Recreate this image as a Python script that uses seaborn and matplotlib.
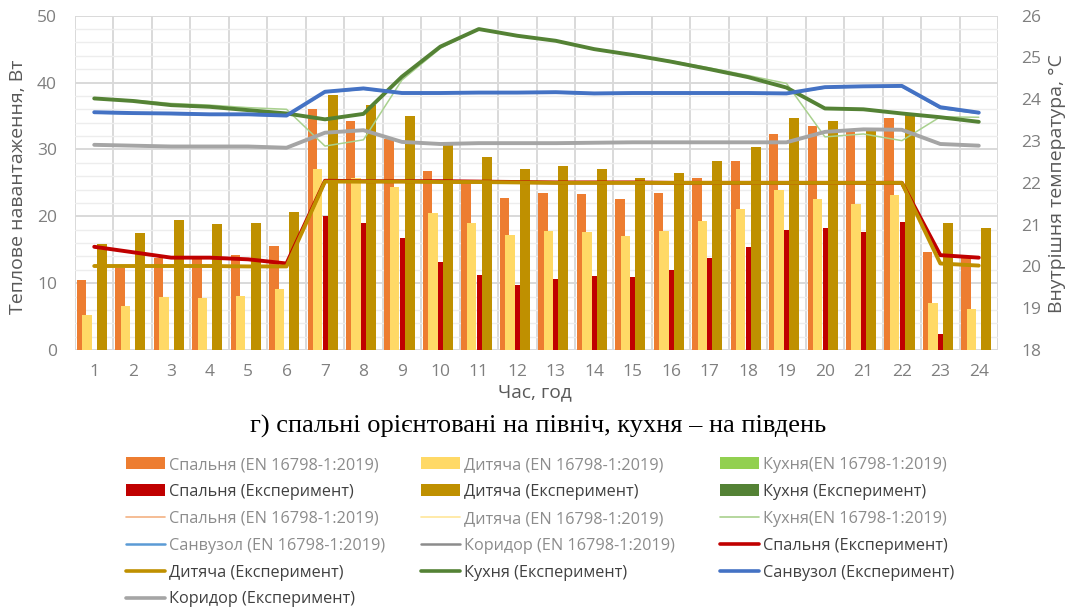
import numpy as np
import pandas as pd
import matplotlib
matplotlib.use("Agg")
import matplotlib.pyplot as plt
import matplotlib.patches as mpatches
from matplotlib.lines import Line2D
import seaborn as sns

# ---- data -------------------------------------------------------------
hours = list(range(1, 25))

# heat load, W (left axis)
bedroom_en_load = [10.5, 12.3, 13.8, 13.7, 14.2, 15.5, 36.0, 34.3, 31.5, 26.8, 25.0, 22.8,
                   23.5, 23.3, 22.6, 23.5, 25.7, 28.3, 32.3, 33.5, 32.6, 34.7, 14.7, 13.7]
child_en_load = [5.3, 6.6, 7.9, 7.8, 8.1, 9.1, 27.1, 25.8, 24.4, 20.5, 19.0, 17.2,
                 17.8, 17.6, 17.0, 17.8, 19.3, 21.1, 24.0, 22.6, 21.8, 23.2, 7.0, 6.1]
bedroom_exp_load = [0, 0, 0, 0, 0, 0, 20.1, 19.0, 16.8, 13.1, 11.2, 9.7,
                    10.6, 11.0, 10.9, 12.0, 13.8, 15.4, 17.9, 18.2, 17.6, 19.2, 2.4, 0]
child_exp_load = [15.8, 17.5, 19.4, 18.9, 19.0, 20.6, 38.1, 36.7, 35.0, 30.7, 28.9, 27.1,
                  27.5, 27.1, 25.8, 26.4, 28.3, 30.4, 34.7, 34.3, 32.7, 35.1, 19.0, 18.3]

# indoor temperature, °C (right axis)
bedroom_en_t = [20.45, 20.33, 20.21, 20.2, 20.16, 20.06, 22.04, 22.03, 22.03, 22.03, 22.02, 22.01,
                22.0, 22.0, 22.0, 22.0, 22.0, 22.0, 22.0, 22.0, 22.0, 22.0, 20.26, 20.2]
child_en_t = [20.0, 20.0, 20.0, 20.0, 20.0, 20.0, 22.02, 22.02, 22.02, 22.02, 22.01, 22.0,
              22.0, 22.0, 22.0, 22.0, 22.0, 22.0, 22.0, 22.0, 22.0, 22.0, 20.06, 20.01]
kitchen_en_t = [24.02, 23.98, 23.90, 23.86, 23.80, 23.76, 22.88, 23.03, 24.46, 25.22, 25.68, 25.52,
                25.40, 25.21, 25.07, 24.92, 24.75, 24.57, 24.38, 23.10, 23.17, 23.01, 23.58, 23.57]
bath_en_t = [23.67, 23.65, 23.64, 23.62, 23.62, 23.60, 24.16, 24.24, 24.14, 24.14, 24.15, 24.15,
             24.15, 24.12, 24.14, 24.14, 24.14, 24.14, 24.13, 24.27, 24.30, 24.30, 23.78, 23.66]
corridor_en_t = [22.90, 22.88, 22.86, 22.86, 22.86, 22.83, 23.19, 23.25, 22.97, 22.92, 22.94, 22.94,
                 22.94, 22.95, 22.96, 22.96, 22.96, 22.96, 22.96, 23.21, 23.27, 23.26, 22.92, 22.88]
bedroom_exp_t = [20.47, 20.34, 20.21, 20.21, 20.17, 20.07, 22.05, 22.04, 22.04, 22.04, 22.03, 22.02,
                 22.01, 22.01, 22.01, 22.0, 22.0, 22.0, 22.0, 22.0, 22.0, 22.0, 20.27, 20.21]
child_exp_t = [20.01, 20.01, 20.01, 20.01, 20.0, 20.0, 22.03, 22.03, 22.03, 22.02, 22.02, 22.01,
               22.0, 22.0, 22.0, 22.0, 22.0, 22.0, 22.0, 22.0, 22.0, 22.0, 20.07, 20.02]
kitchen_exp_t = [24.02, 23.96, 23.86, 23.82, 23.74, 23.66, 23.52, 23.65, 24.54, 25.26, 25.68, 25.52,
                 25.40, 25.20, 25.06, 24.90, 24.72, 24.53, 24.28, 23.78, 23.76, 23.66, 23.57, 23.46]
bath_exp_t = [23.69, 23.67, 23.66, 23.64, 23.64, 23.61, 24.18, 24.26, 24.15, 24.15, 24.16, 24.16,
              24.17, 24.14, 24.15, 24.15, 24.15, 24.15, 24.14, 24.29, 24.31, 24.32, 23.81, 23.68]
corridor_exp_t = [22.91, 22.89, 22.87, 22.87, 22.87, 22.84, 23.20, 23.26, 22.98, 22.93, 22.95, 22.95,
                  22.95, 22.96, 22.97, 22.97, 22.97, 22.97, 22.97, 23.22, 23.28, 23.27, 22.93, 22.89]

load_ticks = [0, 10, 20, 30, 40, 50]
temp_ticks = [18, 19, 20, 21, 22, 23, 24, 25, 26]

# ---- style ------------------------------------------------------------
sns.set_theme(style="white")
plt.rcParams['font.family'] = ['Open Sans', 'DejaVu Sans']

C_ORANGE = "#ED7D31"
C_YELLOW = "#FFD966"
C_LGREEN = "#92D050"
C_RED = "#C00000"
C_GOLD = "#BF9000"
C_DGREEN = "#548235"
C_BLUE = "#4472C4"
C_LBLUE = "#5B9BD5"
C_GRAY = "#A5A5A5"
TICK_C = "#7F7F7F"
LABEL_C = "#595959"

W, H = 1069, 610
fig = plt.figure(figsize=(W / 100, H / 100), dpi=100)
x0, x1, y_top, y_bot = 75, 998, 15.7, 350
ax = fig.add_axes([x0 / W, 1 - y_bot / H, (x1 - x0) / W, (y_bot - y_top) / H])
ax.set_facecolor("white")


def draw_bars(values, offset, width, color):
    df = pd.DataFrame({"hour": np.array(hours, dtype=float) + offset, "load": values})
    sns.barplot(data=df, x="hour", y="load", native_scale=True, width=width,
                color=color, saturation=1, linewidth=0, errorbar=None, ax=ax, zorder=2)


draw_bars(bedroom_en_load, -0.33, 0.245, C_ORANGE)
draw_bars(child_en_load, -0.19, 0.245, C_YELLOW)
draw_bars(bedroom_exp_load, 0.005, 0.13, C_RED)
draw_bars(child_exp_load, 0.20, 0.26, C_GOLD)

ax.set_xlim(0.5, 24.5)
ax.set_ylim(0, 50)
ax.set_xticks(hours)
ax.set_xticklabels([str(h) for h in hours])
ax.set_xticks(np.arange(0.5, 25, 1), minor=True)
ax.set_yticks(load_ticks)
ax.set_yticks(np.arange(0, 51, 2), minor=True)
ax.set_axisbelow(True)
ax.grid(axis="y", which="minor", color="#EDEDED", lw=1.0)
ax.grid(axis="y", which="major", color="#D9D9D9", lw=1.4)
ax.grid(axis="x", which="minor", color="#D9D9D9", lw=1.4)
ax.grid(axis="x", which="major", visible=False)
ax.tick_params(axis="both", which="both", length=0, labelsize=12.5, labelcolor=TICK_C)
ax.tick_params(axis="y", pad=13)
ax.tick_params(axis="x", pad=10)
ax.set_xlabel("")
ax.set_ylabel("")
for s in ax.spines.values():
    s.set_visible(False)

# ---- temperature lines -------------------------------------------------
ax2 = ax.twinx()
line_kw = dict(legend=False, solid_capstyle="round", solid_joinstyle="round")
sns.lineplot(x=hours, y=bedroom_en_t, ax=ax2, color="#F4B183", linewidth=1.0, **line_kw)
sns.lineplot(x=hours, y=child_en_t, ax=ax2, color="#FFE699", linewidth=1.0, **line_kw)
sns.lineplot(x=hours, y=kitchen_en_t, ax=ax2, color="#A9D18E", linewidth=1.1, **line_kw)
sns.lineplot(x=hours, y=bath_en_t, ax=ax2, color=C_LBLUE, linewidth=1.1, **line_kw)
sns.lineplot(x=hours, y=corridor_en_t, ax=ax2, color="#8C8C8C", linewidth=1.1, **line_kw)
sns.lineplot(x=hours, y=bedroom_exp_t, ax=ax2, color=C_RED, linewidth=2.8, **line_kw)
sns.lineplot(x=hours, y=child_exp_t, ax=ax2, color=C_GOLD, linewidth=2.8, **line_kw)
sns.lineplot(x=hours, y=kitchen_exp_t, ax=ax2, color=C_DGREEN, linewidth=2.8, **line_kw)
sns.lineplot(x=hours, y=bath_exp_t, ax=ax2, color=C_BLUE, linewidth=2.8, **line_kw)
sns.lineplot(x=hours, y=corridor_exp_t, ax=ax2, color=C_GRAY, linewidth=2.8, **line_kw)
ax2.set_ylim(18, 26)
ax2.set_yticks(temp_ticks)
ax2.set_xlim(0.5, 24.5)
ax2.tick_params(axis="y", length=0, labelsize=12.5, labelcolor=TICK_C, pad=17)
ax2.set_ylabel("")
ax2.grid(False)
for s in ax2.spines.values():
    s.set_visible(False)

# ---- labels and caption ------------------------------------------------
fig.text(18.5 / W, 1 - 187 / H, "Теплове навантаження, Вт", rotation=90,
         ha="center", va="center", fontsize=14, color=LABEL_C)
fig.text(1057.5 / W, 1 - 184 / H, "Внутрішня температура, °C", rotation=90,
         ha="center", va="center", fontsize=14, color=LABEL_C)
fig.text(535 / W, 1 - 392 / H, "Час, год", ha="center", va="center",
         fontsize=13.8, color=LABEL_C)
fig.text(538 / W, 1 - 426 / H, "г) спальні орієнтовані на північ, кухня – на південь",
         ha="center", va="center", fontsize=19, color="black",
         family=["Liberation Serif", "DejaVu Serif"])

# ---- legend (three columns) --------------------------------------------
EN_C = "#8C8C8C"
EXP_C = "#404040"


def bar_h(c):
    return mpatches.Patch(facecolor=c, edgecolor="none")


def line_h(c, lw):
    return Line2D([0], [0], color=c, lw=lw)


col1 = [
    (bar_h(C_ORANGE), "Спальня (EN 16798-1:2019)", EN_C),
    (bar_h(C_RED), "Спальня (Експеримент)", EXP_C),
    (line_h("#F4B183", 1.2), "Спальня (EN 16798-1:2019)", EN_C),
    (line_h(C_LBLUE, 1.8), "Санвузол (EN 16798-1:2019)", EN_C),
    (line_h(C_GOLD, 2.6), "Дитяча (Експеримент)", EXP_C),
    (line_h(C_GRAY, 2.6), "Коридор (Експеримент)", EXP_C),
]
col2 = [
    (bar_h(C_YELLOW), "Дитяча (EN 16798-1:2019)", EN_C),
    (bar_h(C_GOLD), "Дитяча (Експеримент)", EXP_C),
    (line_h("#FFE699", 1.2), "Дитяча (EN 16798-1:2019)", EN_C),
    (line_h("#8C8C8C", 1.8), "Коридор (EN 16798-1:2019)", EN_C),
    (line_h(C_DGREEN, 2.6), "Кухня (Експеримент)", EXP_C),
]
col3 = [
    (bar_h(C_LGREEN), "Кухня(EN 16798-1:2019)", EN_C),
    (bar_h(C_DGREEN), "Кухня (Експеримент)", EXP_C),
    (line_h("#A9D18E", 1.2), "Кухня(EN 16798-1:2019)", EN_C),
    (line_h(C_RED, 2.6), "Спальня (Експеримент)", EXP_C),
    (line_h(C_BLUE, 2.6), "Санвузол (Експеримент)", EXP_C),
]

for items, xpos in [(col1, 126), (col2, 421), (col3, 720)]:
    leg = fig.legend([i[0] for i in items], [i[1] for i in items],
                     loc="upper left", bbox_to_anchor=(xpos / W, 1 - 457 / H),
                     frameon=False, fontsize=11.7, borderpad=0, borderaxespad=0,
                     handlelength=2.4, handleheight=0.75, handletextpad=0.25,
                     labelspacing=0.67)
    for txt, it in zip(leg.get_texts(), items):
        txt.set_color(it[2])

fig.savefig("out.png", dpi=100, facecolor="white")
